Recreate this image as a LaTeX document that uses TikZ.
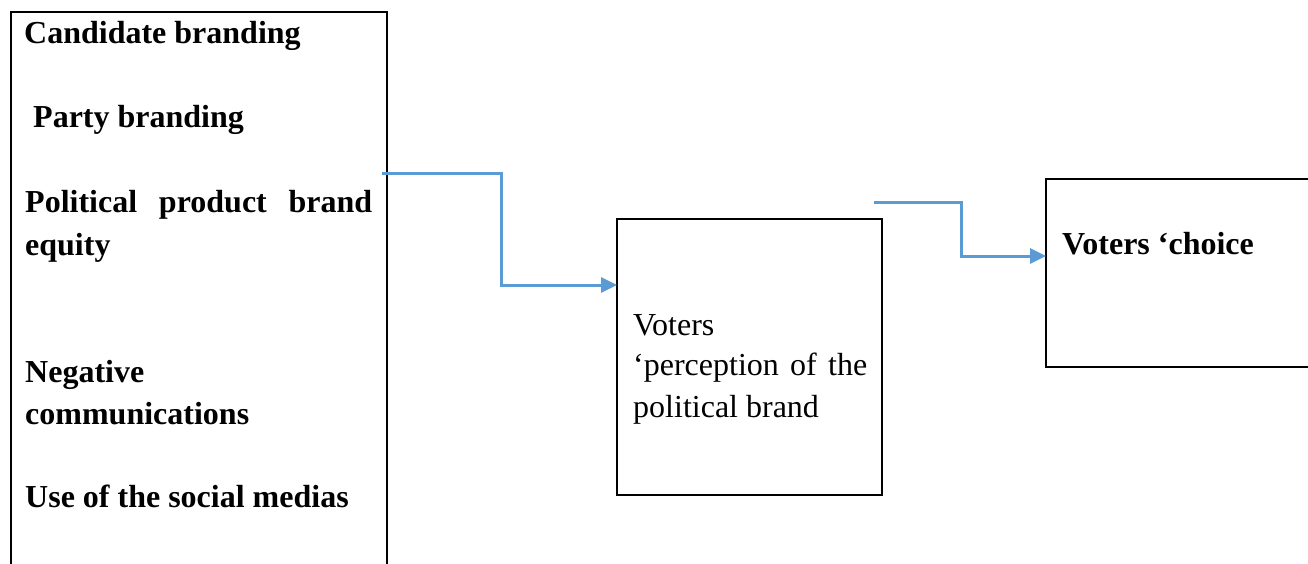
\documentclass[tikz,border=0pt]{standalone}
\usepackage{fontspec}
\setmainfont{Liberation Serif}
\usetikzlibrary{arrows.meta}
\definecolor{arrowblue}{RGB}{91,155,213}
\begin{document}
\begin{tikzpicture}[x=1pt,y=-1pt,
  box/.style={draw=black, line width=2.2pt, inner sep=0pt, outer sep=0pt},
  boldlbl/.style={anchor=base west, inner sep=0pt, font=\fontsize{32}{40}\selectfont\bfseries},
  plainlbl/.style={anchor=base west, inner sep=0pt, font=\fontsize{32}{40}\selectfont},
  flow/.style={draw=arrowblue, line width=3pt, -{Triangle[length=16pt,width=15pt]}}]
\useasboundingbox (0,0) rectangle (1308,563);
% boxes
\node[box, anchor=north west, minimum width=376pt, minimum height=620pt] (factors) at (11,12) {};
\node[box, anchor=north west, minimum width=265pt, minimum height=276pt] (percep) at (617,219) {};
\node[box, anchor=north west, minimum width=300pt, minimum height=188pt] (choice) at (1046,179) {};
% left texts
\node[boldlbl] (t1) at (24,43) {Candidate branding};
\node[boldlbl] (t2) at (33,127) {Party branding};
\node[boldlbl] (t3) at (25,212) {\makebox[347pt][s]{Political product brand}};
\node[boldlbl] (t4) at (25,255) {equity};
\node[boldlbl] (t5) at (25,382) {Negative};
\node[boldlbl] (t6) at (25,424) {communications};
\node[boldlbl] (t7) at (25,507) {Use of the social medias};
% middle texts
\node[plainlbl] (m1) at (633,335) {Voters};
\node[plainlbl] (m2) at (633,375) {\makebox[234pt][s]{‘perception of the}};
\node[plainlbl] (m3) at (633,417) {political brand};
% right text
\node[boldlbl] (r1) at (1062,254) {Voters ‘choice};
% connectors
\coordinate (s1) at (382,173);
\coordinate (k1) at (501,285);
\draw[flow] (s1) -| (k1) -- (k1 -| percep.west);
\coordinate (s2) at (874,202);
\coordinate (k2) at (961,256);
\draw[flow] (s2) -| (k2) -- (k2 -| choice.west);
\end{tikzpicture}
\end{document}
